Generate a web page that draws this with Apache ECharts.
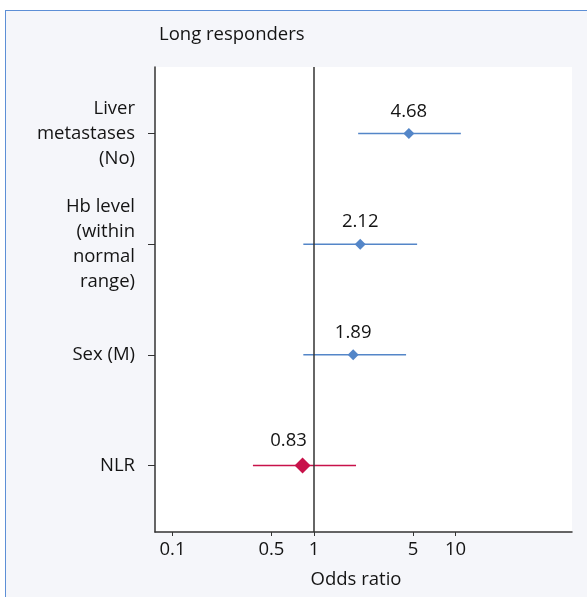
<!DOCTYPE html>
<html>
<head>
<meta charset="utf-8">
<script src="https://cdn.jsdelivr.net/npm/echarts@6/dist/echarts.min.js"></script>
<style>
  html, body { margin: 0; padding: 0; background: #fff; }
  #frame {
    position: absolute; left: 5px; top: 10px; width: 640px; height: 640px;
    background: #f5f6fa; border-top: 1px solid #5d8fd6; border-left: 1px solid #5d8fd6;
  }
  #main { position: absolute; left: 0; top: 0; width: 587px; height: 597px; }
</style>
</head>
<body>
<div id="frame"></div>
<div id="main"></div>
<script>
// forest plot data
const variables = ['Liver\nmetastases\n(No)', 'Hb level\n(within\nnormal\nrange)', 'Sex (M)', 'NLR']
const oddsRatios = [4.68, 2.12, 1.89, 0.83]
const ciLower = [2.05, 0.84, 0.84, 0.37]
const ciUpper = [10.9, 5.35, 4.47, 1.98]
const xTicks = [0.1, 0.5, 1, 5, 10]
const rowTicks = [1, 2, 3, 4]

const BLUE = '#5486c8'
const RED = '#c8124a'
const FONT = 'Open Sans'
const TEXT = '#141414'
const FS = 18.5
const colorOf = i => (oddsRatios[i] < 1 ? RED : BLUE)

const chart = echarts.init(document.getElementById('main'), null, { renderer: 'canvas' })

const points = oddsRatios.map((v, i) => {
  const item = {
    value: [v, i + 1],
    symbolSize: v < 1 ? 16 : 11,
    itemStyle: { color: colorOf(i), opacity: 1 }
  }
  if (v < 1) item.label = { offset: [-14, 0] }
  return item
})
const bars = oddsRatios.map((v, i) => [ciLower[i], ciUpper[i], i + 1])

const option = {
  animation: false,
  textStyle: { fontFamily: FONT },
  title: {
    text: 'Long responders',
    left: 154,
    top: 20,
    textStyle: { fontFamily: FONT, fontSize: FS, fontWeight: 'normal', color: TEXT }
  },
  grid: {
    left: 155,
    right: 15,
    top: 67,
    bottom: 65,
    show: true,
    backgroundColor: '#fff',
    borderWidth: 0
  },
  xAxis: {
    type: 'log',
    min: 0.0752,
    max: 66.5,
    name: 'Odds ratio',
    nameLocation: 'middle',
    nameGap: 38,
    nameTextStyle: { fontFamily: FONT, fontSize: FS, color: TEXT, padding: [0, 15, 0, 0] },
    axisLine: { lineStyle: { color: '#333', width: 1.5 } },
    axisTick: { show: true, length: 4, customValues: xTicks, lineStyle: { color: '#333' } },
    axisLabel: {
      customValues: xTicks,
      margin: 8,
      fontFamily: FONT,
      fontSize: FS,
      color: TEXT,
      formatter: v => String(+Number(v).toPrecision(3))
    },
    splitLine: { show: false },
    minorTick: { show: false }
  },
  yAxis: {
    type: 'value',
    inverse: true,
    min: 0.4,
    max: 4.6,
    axisLine: { show: true, lineStyle: { color: '#333', width: 1.5 } },
    axisTick: { show: true, length: 7, customValues: rowTicks, lineStyle: { color: '#333' } },
    axisLabel: {
      customValues: rowTicks,
      margin: 20,
      fontFamily: FONT,
      fontSize: FS,
      lineHeight: 25,
      color: TEXT,
      align: 'right',
      formatter: v => variables[Math.round(v) - 1] || ''
    },
    splitLine: { show: false }
  },
  series: [
    {
      type: 'custom',
      data: bars,
      encode: { x: [0, 1], y: 2 },
      renderItem (params, api) {
        const y = api.value(2)
        const a = api.coord([api.value(0), y])
        const b = api.coord([api.value(1), y])
        return {
          type: 'line',
          shape: { x1: a[0], y1: a[1], x2: b[0], y2: b[1] },
          style: { stroke: colorOf(params.dataIndex), lineWidth: 1.5 }
        }
      },
      z: 2
    },
    {
      type: 'scatter',
      symbol: 'diamond',
      data: points,
      z: 3,
      label: {
        show: true,
        position: 'top',
        distance: 7,
        fontFamily: FONT,
        fontSize: FS,
        color: TEXT,
        formatter: p => p.value[0].toFixed(2)
      },
      markLine: {
        silent: true,
        symbol: 'none',
        label: { show: false },
        lineStyle: { color: '#333', width: 1.5, type: 'solid', opacity: 1 },
        data: [{ xAxis: 1 }]
      }
    }
  ]
}

chart.setOption(option)
</script>
</body>
</html>
